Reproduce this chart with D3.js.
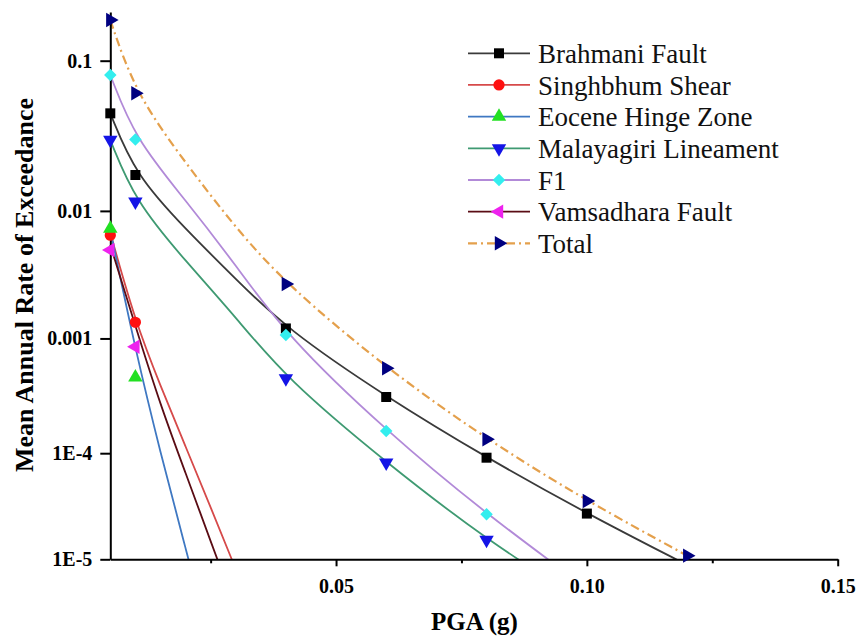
<!DOCTYPE html>
<html>
<head>
<meta charset="utf-8">
<script src="https://cdn.jsdelivr.net/npm/d3@7"></script>
<style>
  html, body { margin: 0; padding: 0; background: #fff; }
  svg { display: block; }
  svg text { font-family: "Liberation Serif", "Tinos", "Times New Roman", "DejaVu Serif", "Noto Serif", serif; }
</style>
</head>
<body>
<svg id="chart" width="858" height="637"></svg>
<script>
// ---------------- data ----------------
const seriesNames = ["Brahmani Fault", "Singhbhum Shear", "Eocene Hinge Zone",
  "Malayagiri Lineament", "F1", "Vamsadhara Fault", "Total"];

// marker points: PGA (g) and mean annual rate of exceedance
const brahmaniPGA = [0.005, 0.01, 0.04, 0.06, 0.08, 0.10];
const brahmaniRate = [0.0472, 0.0181, 0.00121, 3.17e-4, 9.1e-5, 2.75e-5];
const singhbhumPGA = [0.005, 0.01];
const singhbhumRate = [0.0066, 0.00136];
const eocenePGA = [0.005, 0.01];
const eoceneRate = [0.00741, 4.7e-4];
const malayagiriPGA = [0.005, 0.01, 0.04, 0.06, 0.08];
const malayagiriRate = [0.0315, 0.01167, 4.6e-4, 8.19e-5, 1.54e-5];
const f1PGA = [0.005, 0.01, 0.04, 0.06, 0.08];
const f1Rate = [0.0821, 0.0318, 1.068e-3, 1.586e-4, 2.71e-5];
const vamsadharaPGA = [0.005, 0.01];
const vamsadharaRate = [0.00509, 8.53e-4];
const totalPGA = [0.005, 0.01, 0.04, 0.06, 0.08, 0.10, 0.12];
const totalRate = [0.1704, 0.0633, 0.00277, 5.61e-4, 1.336e-4, 3.61e-5, 1.085e-5];

// curve control points (the drawn B-spline lines;
// they run below the axis where they are clipped)
const brahmaniCurvePGA = [0.005, 0.01, 0.02, 0.03, 0.04, 0.06, 0.08, 0.10, 0.12];
const brahmaniCurveRate = [0.0472, 0.0181, 0.00734, 0.00303, 0.00121, 3.17e-4, 9.1e-5, 2.75e-5, 8.8e-6];
const singhbhumCurvePGA = [0.005, 0.01, 0.015, 0.02, 0.025, 0.03];
const singhbhumCurveRate = [0.00686, 1.368e-3, 3.95e-4, 1.15e-4, 3.17e-5, 8.02e-6];
const eoceneCurvePGA = [0.005, 0.01, 0.015, 0.02, 0.025];
const eoceneCurveRate = [0.00722, 8.01e-4, 1.004e-4, 1.288e-5, 1.43e-6];
const malayagiriCurvePGA = [0.005, 0.01, 0.02, 0.03, 0.04, 0.06, 0.08, 0.10];
const malayagiriCurveRate = [0.0315, 0.01167, 0.00419, 0.0015, 4.6e-4, 8.19e-5, 1.54e-5, 3.64e-6];
const f1CurvePGA = [0.005, 0.01, 0.02, 0.03, 0.04, 0.06, 0.08, 0.10];
const f1CurveRate = [0.0821, 0.0318, 0.01201, 0.0039, 1.068e-3, 1.586e-4, 2.71e-5, 5.22e-6];
const vamsadharaCurvePGA = [0.005, 0.01, 0.015, 0.02, 0.025, 0.03];
const vamsadharaCurveRate = [0.00556, 1.267e-3, 2.68e-4, 6.59e-5, 1.50e-5, 3.23e-6];
const totalCurvePGA = [0.005, 0.01, 0.02, 0.03, 0.04, 0.06, 0.08, 0.10, 0.12];
const totalCurveRate = [0.1704, 0.0633, 0.02196, 0.00747, 0.00277, 5.61e-4, 1.336e-4, 3.61e-5, 1.085e-5];

// axis ticks
const xTickValues = [0.05, 0.10, 0.15];
const xMinorTickValues = [0.025, 0.075, 0.125];
const yTickRates = [0.1, 0.01, 0.001, 1e-4, 1e-5];
const yTickLabels = ["0.1", "0.01", "0.001", "1E-4", "1E-5"];

// ---------------- styles ----------------
const lineColors = ["#3a3a3a", "#d64a4a", "#3f78c2", "#3f9a72", "#b28ad8", "#5a0c14", "#e4a04c"];
const markerColors = ["#000000", "#ff1010", "#22e022", "#1414e6", "#33eeee", "#ee22ee", "#000080"];
const markerTypes = ["square", "circle", "triUp", "triDown", "diamond", "triLeft", "triRight"];

const markerPGA = [brahmaniPGA, singhbhumPGA, eocenePGA, malayagiriPGA, f1PGA, vamsadharaPGA, totalPGA];
const markerRate = [brahmaniRate, singhbhumRate, eoceneRate, malayagiriRate, f1Rate, vamsadharaRate, totalRate];
const curvePGA = [brahmaniCurvePGA, singhbhumCurvePGA, eoceneCurvePGA, malayagiriCurvePGA, f1CurvePGA, vamsadharaCurvePGA, totalCurvePGA];
const curveRate = [brahmaniCurveRate, singhbhumCurveRate, eoceneCurveRate, malayagiriCurveRate, f1CurveRate, vamsadharaCurveRate, totalCurveRate];

// ---------------- layout ----------------
const plotLeft = 110.3, plotRight = 837.7, plotTop = 12, plotBottom = 559.3;
const svg = d3.select("#chart");

const x = d3.scaleLinear().domain([0.005, 0.15]).range([plotLeft, plotRight]);
// vertical axis: decades of rate, spaced as in the picture (power-compressed log axis)
const yDec = d3.scalePow().exponent(0.69).domain([0.7252, 5]).range([plotTop, plotBottom]);
const y = r => yDec(-Math.log10(r));

// clip for curves
svg.append("defs").append("clipPath").attr("id", "plotClip")
  .append("rect").attr("x", plotLeft - 2).attr("y", 0)
  .attr("width", plotRight - plotLeft + 4).attr("height", plotBottom);

const lineGen = d3.line().x(d => x(d[0])).y(d => y(d[1])).curve(d3.curveBasis);

const curves = svg.append("g").attr("clip-path", "url(#plotClip)");
seriesNames.forEach((name, i) => {
  const pts = curvePGA[i].map((p, j) => [p, curveRate[i][j]]);
  curves.append("path")
    .datum(pts)
    .attr("d", lineGen)
    .attr("fill", "none")
    .attr("stroke", lineColors[i])
    .attr("stroke-width", i === 6 ? 2.2 : 1.8)
    .attr("stroke-dasharray", i === 6 ? "9,4,2,4" : null);
});

// symbol helper
function symbolSpec(type) {
  switch (type) {
    case "square": return { sym: d3.symbolSquare, size: 100, rot: 0 };
    case "circle": return { sym: d3.symbolCircle, size: 100, rot: 0 };
    case "triUp": return { sym: d3.symbolTriangle, size: 90, rot: 0 };
    case "triDown": return { sym: d3.symbolTriangle, size: 90, rot: 180 };
    case "triLeft": return { sym: d3.symbolTriangle, size: 90, rot: -90 };
    case "triRight": return { sym: d3.symbolTriangle, size: 90, rot: 90 };
    case "diamond": return { sym: d3.symbolSquare, size: 78, rot: 45 };
  }
}
function drawMarker(g, type, cx, cy, color) {
  const s = symbolSpec(type);
  g.append("path")
    .attr("d", d3.symbol().type(s.sym).size(s.size)())
    .attr("transform", `translate(${cx},${cy}) rotate(${s.rot})`)
    .attr("fill", color);
}

// axes
const axisG = svg.append("g");
axisG.append("g").attr("transform", `translate(0,${plotBottom})`)
  .call(d3.axisBottom(x).tickValues(xTickValues).tickFormat(d3.format(".2f"))
    .tickSize(7).tickSizeOuter(0).tickPadding(13));
const xMinor = axisG.append("g").attr("transform", `translate(0,${plotBottom})`)
  .call(d3.axisBottom(x).tickValues(xMinorTickValues).tickFormat("").tickSize(4).tickSizeOuter(0));
xMinor.select(".domain").remove();
axisG.append("g").attr("transform", `translate(${plotLeft},0)`)
  .call(d3.axisLeft(yDec).tickValues(yTickRates.map(r => -Math.log10(r)))
    .tickFormat((d, i) => yTickLabels[i]).tickSize(10).tickSizeOuter(0).tickPadding(8));

axisG.selectAll("g").attr("font-family", null);
axisG.selectAll(".domain, .tick line").attr("stroke", "#000").attr("stroke-width", 2);
axisG.selectAll(".tick text")
  .attr("font-weight", "bold").attr("font-size", 20).attr("fill", "#000");

// markers
const markG = svg.append("g");
seriesNames.forEach((name, i) => {
  markerPGA[i].forEach((p, j) => {
    drawMarker(markG, markerTypes[i], x(p), y(markerRate[i][j]), markerColors[i]);
  });
});

// axis titles
svg.append("text")
  .attr("x", 474.5).attr("y", 630)
  .attr("text-anchor", "middle")
  .attr("font-weight", "bold").attr("font-size", 25)
  .text("PGA (g)");
svg.append("text")
  .attr("transform", `translate(33,285) rotate(-90)`)
  .attr("text-anchor", "middle")
  .attr("font-weight", "bold").attr("font-size", 26)
  .text("Mean Annual Rate of Exceedance");

// legend
const legend = svg.append("g").attr("transform", "translate(468,53.3)");
const rowStep = 31.67;
seriesNames.forEach((name, i) => {
  const gy = i * rowStep;
  legend.append("line")
    .attr("x1", 0).attr("x2", 62).attr("y1", gy).attr("y2", gy)
    .attr("stroke", lineColors[i]).attr("stroke-width", i === 6 ? 2.2 : 1.8)
    .attr("stroke-dasharray", i === 6 ? "9,4,2,4" : null);
  drawMarker(legend, markerTypes[i], 31, gy, markerColors[i]);
  legend.append("text")
    .attr("x", 70).attr("y", gy + 9.6)
    .attr("font-size", 27).attr("fill", "#111")
    .text(name);
});
</script>
</body>
</html>
